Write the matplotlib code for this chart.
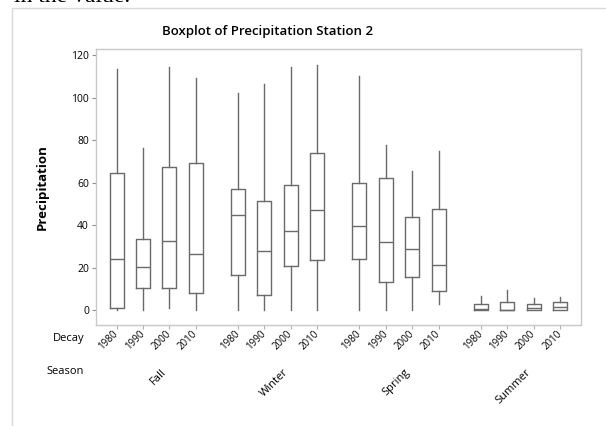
import numpy as np
import matplotlib
matplotlib.use("Agg")
import matplotlib.pyplot as plt
from matplotlib.patches import Rectangle

plt.rcParams['font.family'] = ['Open Sans', 'DejaVu Sans']

# data (box statistics per season / decade)
seasons = ['Fall', 'Winter', 'Spring', 'Summer']
decades = ['1980', '1990', '2000', '2010']
whislo = [0, 0, 1, 0,   0, 0, 0, 0,   0, 0, 0, 2.8,   0, 0, 0, 0]
q1 = [1.1, 10.5, 10.5, 8,   16.4, 7.2, 20.7, 23.7,   24.1, 13.3, 15.8, 9.2,   0, 0, 0, 0]
med = [24, 20.5, 32.7, 26.6,   44.6, 27.7, 37.3, 47,   39.8, 32.1, 29, 21.1,   0.5, 0, 0.9, 1.7]
q3 = [64.4, 33.7, 67.5, 69.1,   56.9, 51.2, 58.9, 74.1,   59.7, 62.4, 44, 47.5,   2.8, 4.1, 3, 3.8]
whishi = [113.4, 76.5, 114.2, 109.3,   102.3, 106.2, 114.5, 115.3,   110.3, 77.7, 65.6, 74.9,   6.7, 9.6, 5.6, 6.4]

group_gap = 4.6
positions = [g * group_gap + i for g in range(len(seasons)) for i in range(len(decades))]

stats = []
for k in range(len(positions)):
    stats.append(dict(whislo=whislo[k], q1=q1[k], med=med[k], q3=q3[k],
                      whishi=whishi[k], fliers=[]))

fig = plt.figure(figsize=(6.06, 4.26), dpi=100)
W, H = 606, 426

# outer panel frame and the document text clipped at the top
fig.patches.append(Rectangle((12 / W, -0.1), 1.2, 1 - 8 / H + 0.1, transform=fig.transFigure,
                             fill=False, edgecolor='#d9d9d9', lw=1))
fig.text(14 / W, 1 - 2 / H, 'in the value.', family='Liberation Serif', fontsize=17,
         va='baseline', ha='left', color='black')

ax = fig.add_axes([96 / W, 1 - 325 / H, 485 / W, 276 / H])
gray = '#6a6a6a'
lp = dict(color=gray, lw=1)
ax.bxp(stats, positions=positions, widths=0.53, showcaps=False, showfliers=False,
       boxprops=lp, whiskerprops=lp, medianprops=lp, capprops=lp)

ax.set_xlim(-0.78, 17.59)
ax.set_ylim(-6.9, 122.8)
ax.set_yticks(np.arange(0, 121, 20))
ax.tick_params(axis='y', labelsize=7.5, length=3, color='#909090', pad=2)
ax.tick_params(axis='x', length=3, color='#b0b0b0', pad=2)
ax.set_xticks(positions)
ax.set_xticklabels(decades * len(seasons), rotation=45, ha='right', va='center',
                   rotation_mode='anchor', fontsize=7)
for s in ax.spines.values():
    s.set_color('#c8c8c8')
    s.set_linewidth(1)

ax.set_ylabel('Precipitation', fontsize=9.5, fontweight='bold', labelpad=16)

fig.text(268 / W, 1 - 31 / H, 'Boxplot of Precipitation Station 2', ha='center', va='center',
         fontsize=9.5, fontweight='semibold')

fig.text(84 / W, 1 - 338 / H, 'Decay', ha='right', va='center', fontsize=8)
fig.text(84 / W, 1 - 372 / H, 'Season', ha='right', va='center', fontsize=8)

for g, name in enumerate(seasons):
    xc = g * group_gap + 1.5
    ax.annotate(name, xy=(xc, 0), xycoords=('data', 'axes fraction'),
                xytext=(5, -42), textcoords='offset pixels',
                rotation=45, ha='right', va='top', rotation_mode='anchor', fontsize=8)

fig.savefig('out.png', dpi=100)
